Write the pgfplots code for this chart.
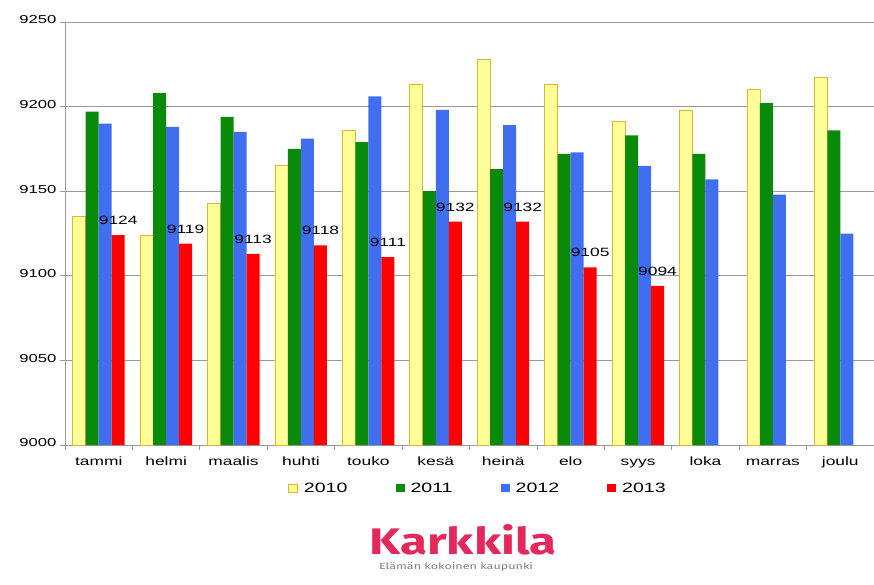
\documentclass[border=0pt]{standalone}
\usepackage{pgfplots}
\pgfplotsset{compat=1.18}
\usepackage{fontspec}
\setmainfont{Liberation Sans}
\newfontfamily\logofont{Fira Sans}
\newcommand{\sx}[1]{\scalebox{1.45}[1]{#1}}
\definecolor{c2010}{HTML}{FFFF99}
\definecolor{c2010e}{HTML}{E2B52A}
\definecolor{c2011}{HTML}{0A8A0A}
\definecolor{c2012}{HTML}{3F6FEF}
\definecolor{c2013}{HTML}{FF0000}
\definecolor{logo}{HTML}{E3285C}
\definecolor{gridc}{HTML}{9A9A9A}
\begin{document}
\begin{tikzpicture}
\useasboundingbox (-65pt,-139pt) rectangle (809pt,445pt);
\begin{axis}[at={(0,0)}, anchor=south west, scale only axis,
  width=809pt, height=423pt,
  ybar=0pt, bar width=13pt,
  xmin=-0.5, xmax=11.5, ymin=9000, ymax=9250,
  xtick={0,...,11},
  xticklabels={\sx{tammi},\sx{helmi},\sx{maalis},\sx{huhti},\sx{touko},\sx{kesä},\sx{heinä},\sx{elo},\sx{syys},\sx{loka},\sx{marras},\sx{joulu}},
  xticklabel style={font=\fontsize{12}{14}\selectfont, yshift=-3pt, text height=9pt, text depth=3pt},
  major x tick style={draw=none},
  minor xtick={-0.5,0.5,...,11.5},
  ytick={9000,9050,...,9250},
  yticklabel={\sx{\pgfmathprintnumber[assume math mode=true,1000 sep={}]{\tick}}},
  yticklabel style={font=\fontsize{11.5}{13}\selectfont, yshift=2pt},
  ymajorgrids, grid style={gridc, line width=0.8pt},
  axis x line*=bottom, axis y line*=left,
  axis line style={gridc, line width=0.8pt},
  tick align=outside, tick style={gridc, line width=0.8pt},
  major tick length=5pt, minor tick length=5pt,
  legend style={at={(0.5105,-0.102)}, anchor=center, draw=none,
    legend columns=4, font=\fontsize{13.5}{15}\selectfont,
    /tikz/every odd column/.style={column sep=4pt},
    /tikz/every even column/.style={column sep=46pt}},
  legend cell align=left,
]
\addplot[fill=c2010, draw=c2010e, line width=0.7pt,
  legend image code/.code={\draw[fill=c2010, draw=c2010e, line width=0.7pt] (0pt,-4pt) rectangle (9pt,4pt);}]
  coordinates {(0,9135) (1,9124) (2,9143) (3,9165) (4,9186) (5,9213) (6,9228) (7,9213) (8,9191) (9,9198) (10,9210) (11,9217)};
\addplot[fill=c2011, draw=none,
  legend image code/.code={\fill[c2011] (0pt,-4pt) rectangle (9pt,4pt);}]
  coordinates {(0,9197) (1,9208) (2,9194) (3,9175) (4,9179) (5,9150) (6,9163) (7,9172) (8,9183) (9,9172) (10,9202) (11,9186)};
\addplot[fill=c2012, draw=none,
  legend image code/.code={\fill[c2012] (0pt,-4pt) rectangle (9pt,4pt);}]
  coordinates {(0,9190) (1,9188) (2,9185) (3,9181) (4,9206) (5,9198) (6,9189) (7,9173) (8,9165) (9,9157) (10,9148) (11,9125)};
\addplot[fill=c2013, draw=none,
  legend image code/.code={\fill[c2013] (0pt,-4pt) rectangle (9pt,4pt);},
  nodes near coords={\sx{\pgfmathprintnumber[assume math mode=true,1000 sep={}]{\pgfplotspointmeta}}},
  nodes near coords style={font=\fontsize{12}{14}\selectfont, anchor=south, yshift=7pt, text=black}]
  coordinates {(0,9124) (1,9119) (2,9113) (3,9118) (4,9111) (5,9132) (6,9132) (7,9105) (8,9094)};
\legend{\sx{2010},\sx{2011},\sx{2012},\sx{2013}}
\end{axis}
\node[anchor=base, text=logo, inner sep=0pt] at (398pt,-109pt)
  {\resizebox{187pt}{30pt}{\logofont\bfseries Karkkila}};
\node[anchor=base, text=gray, inner sep=0pt] at (391pt,-124pt)
  {\resizebox{154pt}{7pt}{\logofont Elämän kokoinen kaupunki}};
\end{tikzpicture}
\end{document}
